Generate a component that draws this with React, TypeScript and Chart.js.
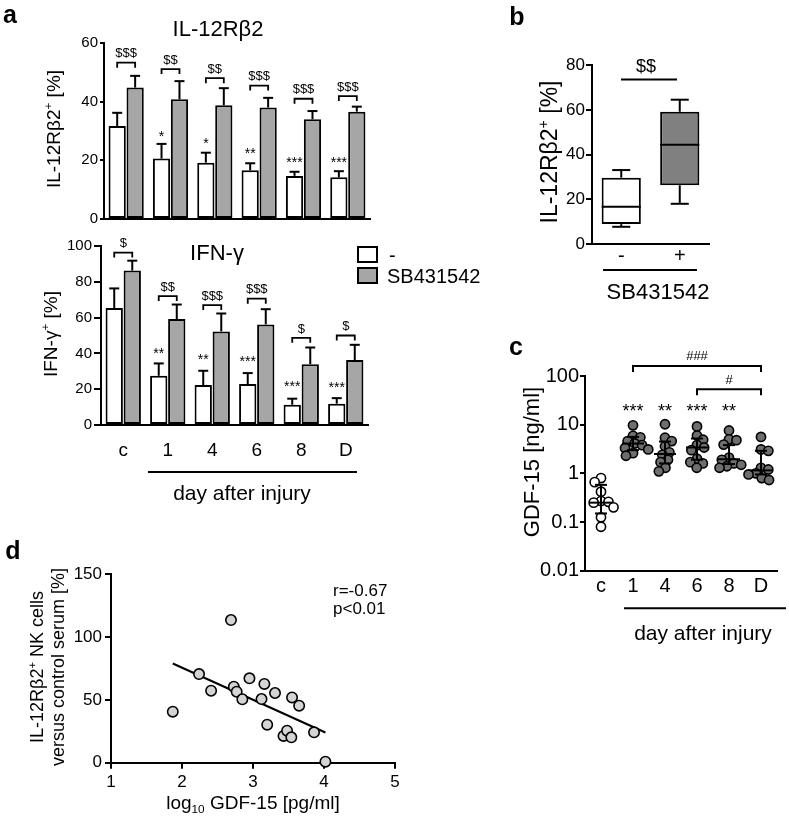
import React, { useEffect, useRef } from 'react';
import { Chart, registerables } from 'chart.js';

Chart.register(...registerables);

const FONT = '"Liberation Sans", Arial, Helvetica, sans-serif';

// ---------------- data ----------------
const days = ['c', '1', '4', '6', '8', 'D'];

// panel a – IL-12Rβ2
const il12Ctrl = [31.7, 20.6, 19.2, 16.6, 14.7, 14.2];
const il12CtrlErr = [36.2, 25.6, 22.6, 19.0, 16.1, 16.3];
const il12Sb = [44.8, 40.8, 38.8, 38.0, 34.0, 36.6];
const il12SbErr = [48.8, 47.0, 44.6, 41.3, 36.8, 38.3];
const il12Sig = ['$$$', '$$', '$$', '$$$', '$$$', '$$$'];
const il12SigAt = [53.3, 51.1, 48.0, 45.5, 41.0, 41.9];
const il12Star = ['', '*', '*', '**', '***', '***'];
const il12StarAt = [0, 29.0, 26.7, 23.0, 20.2, 20.2];

// panel a – IFN-γ
const ifnCtrl = [65.4, 27.5, 22.3, 22.9, 11.3, 11.9];
const ifnCtrlErr = [76.3, 34.4, 30.3, 29.0, 14.7, 15.0];
const ifnSb = [86.3, 59.2, 52.3, 56.2, 34.0, 36.3];
const ifnSbErr = [91.8, 67.3, 62.3, 64.7, 43.3, 44.8];
const ifnSig = ['$', '$$', '$$$', '$$$', '$', '$'];
const ifnSigAt = [96.3, 72.0, 67.0, 70.6, 48.7, 50.0];
const ifnStar = ['', '**', '**', '***', '***', '***'];
const ifnStarAt = [0, 41.3, 38.0, 36.8, 22.7, 22.1];

// panel b – box plot
const sbGroups = ['-', '+'];
const sbMin = [7.7, 18.0];
const sbQ1 = [8.9, 26.3];
const sbMed = [16.7, 44.4];
const sbQ3 = [29.7, 59.2];
const sbMax = [33.1, 64.6];

// panel c – GDF-15 [ng/ml]
const gdfC = [0.8, 0.66, 0.42, 0.27, 0.26, 0.25, 0.2, 0.125, 0.08];
const gdf1 = [9.7, 5.9, 5.5, 4.6, 4.1, 3.8, 3.3, 3.1, 2.6, 2.3];
const gdf4 = [10.2, 5.4, 4.6, 3.6, 2.7, 2.4, 1.9, 1.7, 1.3, 1.1];
const gdf6 = [9.2, 6.0, 4.9, 3.8, 3.4, 3.0, 2.0, 1.7, 1.6, 1.3];
const gdf8 = [7.6, 5.0, 4.8, 3.9, 2.1, 1.9, 1.6, 1.5, 1.4, 1.3];
const gdfD = [5.6, 3.1, 2.9, 1.3, 1.2, 1.0, 0.95, 0.8, 0.73];
const gdfMed = [0.25, 4.1, 2.5, 3.4, 1.95, 1.15];
const gdfLo = [0.15, 3.0, 1.6, 1.9, 1.55, 0.95];
const gdfHi = [0.58, 5.6, 4.5, 5.2, 3.8, 2.9];
const gdfStars = ['', '***', '**', '***', '**', ''];
const gdfTicks = [0.01, 0.1, 1, 10, 100];

// panel d – correlation
const gdfLog = [1.87, 2.24, 2.41, 2.69, 2.73, 2.77, 2.85, 2.95, 3.12, 3.16, 3.2, 3.31, 3.43, 3.48, 3.54, 3.55, 3.65, 3.86, 4.02];
const il12Rel = [40.6, 70.6, 57.3, 113.6, 60.5, 56.5, 50.5, 67.2, 50.7, 62.7, 30.3, 55.5, 21.3, 25.5, 20.2, 52.0, 45.4, 24.2, 0.8];

// ---------------- helpers ----------------
type Seg = [string, number?];

function rich(ctx: CanvasRenderingContext2D, segs: Seg[], x: number, y: number, size: number,
  rot = 0, align: 'center' | 'left' = 'center', weight = 'normal') {
  ctx.save();
  ctx.translate(x, y);
  if (rot) ctx.rotate(rot);
  ctx.fillStyle = '#000';
  ctx.textBaseline = 'alphabetic';
  ctx.textAlign = 'left';
  const fontOf = (m: number) => `${weight} ${m ? size * 0.62 : size}px ${FONT}`;
  let total = 0;
  const ws = segs.map(([t, m = 0]) => {
    ctx.font = fontOf(m);
    const w = ctx.measureText(t).width;
    total += w;
    return w;
  });
  let cx = align === 'center' ? -total / 2 : 0;
  const base = size * 0.36;
  segs.forEach(([t, m = 0], i) => {
    ctx.font = fontOf(m);
    const dy = m === 1 ? -size * 0.42 : m === -1 ? size * 0.22 : 0;
    ctx.fillText(t, cx, base + dy);
    cx += ws[i];
  });
  ctx.restore();
}

function line(ctx: CanvasRenderingContext2D, pts: number[][], w = 2) {
  ctx.save();
  ctx.strokeStyle = '#000';
  ctx.lineWidth = w;
  ctx.beginPath();
  pts.forEach(([x, y], i) => (i ? ctx.lineTo(x, y) : ctx.moveTo(x, y)));
  ctx.stroke();
  ctx.restore();
}

function bracket(ctx: CanvasRenderingContext2D, x1: number, x2: number, y: number, leg = 5, w = 1.8) {
  line(ctx, [[x1, y + leg], [x1, y], [x2, y], [x2, y + leg]], w);
}

function fixed(W: number, H: number, a: { l: number; t: number; r: number; b: number }) {
  return {
    padding: { left: 0, top: a.t, right: W - a.r, bottom: 0 },
    yWidth: a.l,
    xHeight: H - a.b,
  };
}

const border = { display: true, color: '#000', width: 2 };
const tickGrid = (len: number) => ({
  display: true, drawOnChartArea: false, drawTicks: true, tickLength: len, color: '#000', lineWidth: 2,
});
const noGrid = { display: false, drawTicks: false };
const baseOpts = {
  animation: false as const,
  responsive: false,
  maintainAspectRatio: false,
  events: [] as any[],
};
const noPlugins = { legend: { display: false }, tooltip: { enabled: false } };

// ---------------- panel a (bars) ----------------
type BarP = {
  W: number; H: number; area: { l: number; t: number; r: number; b: number };
  ctrl: number[]; ctrlErr: number[]; sb: number[]; sbErr: number[];
  sig: string[]; sigAt: number[]; star: string[]; starAt: number[];
  ymax: number; tickLen: number; showX: boolean; xPad: number;
  extra: (ctx: CanvasRenderingContext2D, chart: any) => void;
};

function barConfig(p: BarP): any {
  const L = fixed(p.W, p.H, p.area);
  const common = { borderColor: '#000', borderWidth: 2, borderSkipped: false, categoryPercentage: 0.81, barPercentage: 0.96 };
  return {
    type: 'bar',
    data: {
      labels: days,
      datasets: [
        { data: p.ctrl, backgroundColor: '#ffffff', ...common },
        { data: p.sb, backgroundColor: '#a6a6a6', ...common },
      ],
    },
    options: {
      ...baseOpts,
      layout: { padding: L.padding },
      plugins: noPlugins,
      scales: {
        x: {
          type: 'category',
          grid: noGrid,
          border,
          ticks: { display: p.showX, color: '#000', font: { family: FONT, size: 19 }, padding: p.xPad, maxRotation: 0, autoSkip: false },
          afterFit: (s: any) => { s.height = L.xHeight; },
        },
        y: {
          min: 0, max: p.ymax,
          ticks: { stepSize: 20, color: '#000', font: { family: FONT, size: 15 }, padding: 2 },
          grid: tickGrid(p.tickLen),
          border,
          afterFit: (s: any) => { s.width = L.yWidth; },
        },
      },
    },
    plugins: [{
      id: 'barExtras',
      afterDatasetsDraw(chart: any) {
        const ctx = chart.ctx as CanvasRenderingContext2D;
        const y = chart.scales.y;
        const m0 = chart.getDatasetMeta(0);
        const m1 = chart.getDatasetMeta(1);
        ([[m0, p.ctrlErr], [m1, p.sbErr]] as any[]).forEach(([m, err]) => {
          m.data.forEach((bar: any, i: number) => {
            const ye = y.getPixelForValue(err[i]);
            line(ctx, [[bar.x, bar.y], [bar.x, ye]]);
            line(ctx, [[bar.x - 5, ye], [bar.x + 5, ye]]);
          });
        });
        p.sig.forEach((s, i) => {
          const x1 = m0.data[i].x, x2 = m1.data[i].x;
          const yb = y.getPixelForValue(p.sigAt[i]);
          bracket(ctx, x1, x2, yb, 5, 1.8);
          rich(ctx, [[s]], (x1 + x2) / 2, yb - 10, 13);
        });
        p.star.forEach((s, i) => {
          if (!s) return;
          ctx.save();
          ctx.font = `14px ${FONT}`;
          ctx.fillStyle = '#000';
          ctx.textAlign = 'center';
          ctx.textBaseline = 'middle';
          ctx.fillText(s, m0.data[i].x, y.getPixelForValue(p.starAt[i]) + 3);
          ctx.restore();
        });
        p.extra(ctx, chart);
      },
    }],
  };
}

const panelATop = () => barConfig({
  W: 400, H: 230, area: { l: 104, t: 43, r: 370, b: 221 },
  ctrl: il12Ctrl, ctrlErr: il12CtrlErr, sb: il12Sb, sbErr: il12SbErr,
  sig: il12Sig, sigAt: il12SigAt, star: il12Star, starAt: il12StarAt,
  ymax: 60, tickLen: 4, showX: false, xPad: 0,
  extra: (ctx) => {
    rich(ctx, [['a']], 10, 14, 25, 0, 'center', 'bold');
    rich(ctx, [['IL-12Rβ2']], 218, 28, 22);
    rich(ctx, [['IL-12Rβ2'], ['+', 1], [' [%]']], 53, 129, 19, -Math.PI / 2);
  },
});

const panelABottom = () => barConfig({
  W: 480, H: 280, area: { l: 101, t: 16, r: 368, b: 195 },
  ctrl: ifnCtrl, ctrlErr: ifnCtrlErr, sb: ifnSb, sbErr: ifnSbErr,
  sig: ifnSig, sigAt: ifnSigAt, star: ifnStar, starAt: ifnStarAt,
  ymax: 100, tickLen: 7, showX: true, xPad: 14,
  extra: (ctx) => {
    rich(ctx, [['IFN-γ']], 217, 22.5, 22);
    rich(ctx, [['IFN-γ'], ['+', 1], [' [%]']], 50, 104, 19, -Math.PI / 2);
    // legend
    ctx.save();
    ctx.lineWidth = 2;
    ctx.strokeStyle = '#000';
    ctx.fillStyle = '#ffffff';
    ctx.fillRect(358, 17, 19, 15);
    ctx.strokeRect(358, 17, 19, 15);
    ctx.fillStyle = '#a6a6a6';
    ctx.fillRect(358, 38, 19, 15);
    ctx.strokeRect(358, 38, 19, 15);
    ctx.restore();
    rich(ctx, [['-']], 389, 24.5, 20, 0, 'left');
    rich(ctx, [['SB431542']], 387, 45.5, 20, 0, 'left');
    // x grouping
    line(ctx, [[148, 242], [357, 242]], 2);
    rich(ctx, [['day after injury']], 242, 262, 21);
  },
});

// ---------------- panel b (box plot) ----------------
const panelB = (): any => {
  const W = 309, H = 300;
  const L = fixed(W, H, { l: 112, t: 65.3, r: 229, b: 244 });
  return {
    type: 'bar',
    data: {
      labels: sbGroups,
      datasets: [{
        data: sbQ1.map((q, i) => [q, sbQ3[i]]),
        backgroundColor: ['#ffffff', '#808080'],
        borderColor: '#000', borderWidth: 2, borderSkipped: false,
        categoryPercentage: 1, barPercentage: 0.67,
      }],
    },
    options: {
      ...baseOpts,
      layout: { padding: L.padding },
      plugins: noPlugins,
      scales: {
        x: {
          type: 'category', grid: noGrid, border,
          ticks: { color: '#000', font: { family: FONT, size: 20 }, padding: 0, maxRotation: 0 },
          afterFit: (s: any) => { s.height = L.xHeight; },
        },
        y: {
          min: 0, max: 80,
          ticks: { stepSize: 20, color: '#000', font: { family: FONT, size: 17 }, padding: 1 },
          grid: tickGrid(6), border,
          afterFit: (s: any) => { s.width = L.yWidth; },
        },
      },
    },
    plugins: [{
      id: 'boxExtras',
      afterDatasetsDraw(chart: any) {
        const ctx = chart.ctx as CanvasRenderingContext2D;
        const y = chart.scales.y;
        const meta = chart.getDatasetMeta(0);
        meta.data.forEach((bar: any, i: number) => {
          const x = bar.x, hw = bar.width / 2;
          const yMin = y.getPixelForValue(sbMin[i]), yMax = y.getPixelForValue(sbMax[i]);
          const yQ1 = y.getPixelForValue(sbQ1[i]), yQ3 = y.getPixelForValue(sbQ3[i]);
          const yMed = y.getPixelForValue(sbMed[i]);
          line(ctx, [[x, yQ3], [x, yMax]]);
          line(ctx, [[x - 9, yMax], [x + 9, yMax]]);
          line(ctx, [[x, yQ1], [x, yMin]]);
          line(ctx, [[x - 9, yMin], [x + 9, yMin]]);
          line(ctx, [[x - hw, yMed], [x + hw, yMed]]);
        });
        const yl = y.getPixelForValue(73.6);
        line(ctx, [[141, yl], [197, yl]], 2);
        rich(ctx, [['$$']], 166, 66, 18);
        rich(ctx, [['b']], 37, 16, 25, 0, 'center', 'bold');
        rich(ctx, [['IL-12Rβ2'], ['+', 1], [' [%]']], 69, 152, 23, -Math.PI / 2);
        line(ctx, [[123, 270], [217, 270]], 2);
        rich(ctx, [['SB431542']], 178, 291, 22);
      },
    }],
  };
};

// ---------------- panel c (dot plot, log) ----------------
const gdfGroups = [gdfC, gdf1, gdf4, gdf6, gdf8, gdfD];

const panelC = (): any => {
  const W = 309, H = 350;
  const L = fixed(W, H, { l: 105, t: 76, r: 297, b: 270.7 });
  const pts = (g: number) => gdfGroups[g].map((v) => ({ x: g, y: v, g }));
  const dot = { pointRadius: 4.6, pointBorderColor: '#000', pointBorderWidth: 1.6, clip: false };
  return {
    type: 'scatter',
    data: {
      datasets: [
        { data: pts(0), pointBackgroundColor: '#ffffff', ...dot },
        { data: [1, 2, 3, 4, 5].flatMap(pts), pointBackgroundColor: '#6e6e6e', ...dot },
      ],
    },
    options: {
      ...baseOpts,
      layout: { padding: L.padding },
      plugins: noPlugins,
      scales: {
        x: {
          type: 'linear', min: -0.5, max: 5.5,
          afterBuildTicks: (s: any) => { s.ticks = days.map((_, i) => ({ value: i })); },
          ticks: { color: '#000', font: { family: FONT, size: 20 }, padding: 4, maxRotation: 0, autoSkip: false, callback: (v: any) => days[Math.round(v)] },
          grid: noGrid, border,
          afterFit: (s: any) => { s.height = L.xHeight; },
        },
        y: {
          type: 'logarithmic', min: 0.01, max: 100,
          afterBuildTicks: (s: any) => { s.ticks = gdfTicks.map((v) => ({ value: v })); },
          ticks: { color: '#000', font: { family: FONT, size: 20 }, padding: 1, callback: (v: any) => String(v) },
          grid: tickGrid(5), border,
          afterFit: (s: any) => { s.width = L.yWidth; },
        },
      },
    },
    plugins: [{
      id: 'dotExtras',
      afterDatasetsDraw(chart: any) {
        const ctx = chart.ctx as CanvasRenderingContext2D;
        const xs = chart.scales.x, ys = chart.scales.y;
        days.forEach((_, g) => {
          const x = xs.getPixelForValue(g);
          const ym = ys.getPixelForValue(gdfMed[g]);
          const yl = ys.getPixelForValue(gdfLo[g]);
          const yh = ys.getPixelForValue(gdfHi[g]);
          line(ctx, [[x - 11, ym], [x + 11, ym]]);
          line(ctx, [[x, yl], [x, yh]]);
          line(ctx, [[x - 6, yl], [x + 6, yl]]);
          line(ctx, [[x - 6, yh], [x + 6, yh]]);
          if (gdfStars[g]) {
            ctx.save();
            ctx.font = `18px ${FONT}`;
            ctx.fillStyle = '#000';
            ctx.textAlign = 'center';
            ctx.textBaseline = 'middle';
            ctx.fillText(gdfStars[g], x, ys.getPixelForValue(22) + 4);
            ctx.restore();
          }
        });
        const x1 = xs.getPixelForValue(1), x3 = xs.getPixelForValue(3), x5 = xs.getPixelForValue(5);
        bracket(ctx, x1, x5, 66, 6, 2);
        rich(ctx, [['###']], (x1 + x5) / 2, 55, 13);
        bracket(ctx, x3, x5, 89.3, 6, 2);
        rich(ctx, [['#']], (x3 + x5) / 2, 79, 13);
        rich(ctx, [['c']], 36, 46, 25, 0, 'center', 'bold');
        rich(ctx, [['GDF-15 [ng/ml]']], 51, 162, 22, -Math.PI / 2);
        line(ctx, [[144, 308.3], [306, 308.3]], 2);
        rich(ctx, [['day after injury']], 223, 332, 21);
      },
    }],
  };
};

function applySwarm(chart: any) {
  const xs = chart.scales.x, ys = chart.scales.y;
  const unit = xs.getPixelForValue(1) - xs.getPixelForValue(0);
  const D = 7.5;
  chart.data.datasets.forEach((ds: any) => {
    const byGroup: Record<number, any[]> = {};
    ds.data.forEach((p: any) => { (byGroup[p.g] ||= []).push(p); });
    Object.values(byGroup).forEach((group) => {
      const placed: { dx: number; py: number }[] = [];
      group.forEach((p, k) => {
        const py = ys.getPixelForValue(p.y);
        const cands = [0];
        placed.forEach((q) => {
          const dy = Math.abs(py - q.py);
          if (dy < D) {
            const h = Math.sqrt(D * D - dy * dy);
            cands.push(q.dx + h, q.dx - h);
          }
        });
        const sign = k % 2 ? -1 : 1;
        cands.sort((a, b) => Math.abs(a) - Math.abs(b) || sign * (b - a));
        const dx = cands.find((c) => placed.every((q) => Math.hypot(c - q.dx, py - q.py) >= D - 0.01)) ?? 0;
        placed.push({ dx, py });
        p.x = p.g + dx / unit;
      });
    });
  });
  chart.update('none');
}

// ---------------- panel d (scatter + regression) ----------------
function fitLine(xv: number[], yv: number[]) {
  const n = xv.length;
  const mx = xv.reduce((a, b) => a + b, 0) / n;
  const my = yv.reduce((a, b) => a + b, 0) / n;
  let sxy = 0, sxx = 0;
  xv.forEach((x, i) => { sxy += (x - mx) * (yv[i] - my); sxx += (x - mx) ** 2; });
  const m = sxy / sxx;
  return { m, b: my - m * mx };
}

const panelD = (): any => {
  const W = 480, H = 287;
  const L = fixed(W, H, { l: 111, t: 44.3, r: 395, b: 232.7 });
  const fit = fitLine(gdfLog, il12Rel);
  const x0 = Math.min(...gdfLog), x1 = Math.max(...gdfLog);
  return {
    type: 'scatter',
    data: {
      datasets: [
        {
          data: gdfLog.map((x, i) => ({ x, y: il12Rel[i] })),
          pointRadius: 5.2, pointBackgroundColor: '#d4d4d4', pointBorderColor: '#000', pointBorderWidth: 1.6,
          clip: false, order: 1,
        },
        {
          type: 'line',
          data: [{ x: x0, y: fit.b + fit.m * x0 }, { x: x1, y: fit.b + fit.m * x1 }],
          borderColor: '#000', borderWidth: 2, pointRadius: 0, showLine: true, fill: false, clip: false, order: 2,
        },
      ],
    },
    options: {
      ...baseOpts,
      layout: { padding: L.padding },
      plugins: noPlugins,
      scales: {
        x: {
          type: 'linear', min: 1, max: 5,
          ticks: { stepSize: 1, color: '#000', font: { family: FONT, size: 17 }, padding: 3, maxRotation: 0 },
          grid: tickGrid(6), border,
          afterFit: (s: any) => { s.height = L.xHeight; },
        },
        y: {
          min: 0, max: 150,
          ticks: { stepSize: 50, color: '#000', font: { family: FONT, size: 17 }, padding: 3 },
          grid: tickGrid(6), border,
          afterFit: (s: any) => { s.width = L.yWidth; },
        },
      },
    },
    plugins: [{
      id: 'corrExtras',
      afterDatasetsDraw(chart: any) {
        const ctx = chart.ctx as CanvasRenderingContext2D;
        rich(ctx, [['d']], 13, 20, 25, 0, 'center', 'bold');
        rich(ctx, [['r=-0.67']], 333, 60, 17, 0, 'left');
        rich(ctx, [['p<0.01']], 333, 78, 17, 0, 'left');
        rich(ctx, [['IL-12Rβ2'], ['+', 1], [' NK cells']], 37, 137, 18, -Math.PI / 2);
        rich(ctx, [['versus control serum [%]']], 58, 137, 18, -Math.PI / 2);
        rich(ctx, [['log'], ['10', -1], [' GDF-15 [pg/ml]']], 253, 272, 19);
      },
    }],
  };
};

// ---------------- components ----------------
function ChartBox(props: { left: number; top: number; width: number; height: number; make: () => any; after?: (c: any) => void }) {
  const ref = useRef<HTMLCanvasElement>(null);
  useEffect(() => {
    const chart = new Chart(ref.current as HTMLCanvasElement, props.make());
    if (props.after) props.after(chart);
    return () => chart.destroy();
  }, []);
  return (
    <canvas
      ref={ref}
      width={props.width}
      height={props.height}
      style={{ position: 'absolute', left: props.left, top: props.top, width: props.width, height: props.height }}
    />
  );
}

export default function App() {
  return (
    <div style={{ position: 'fixed', left: 0, top: 0, width: 789, height: 817, background: '#ffffff', overflow: 'hidden' }}>
      <ChartBox left={0} top={0} width={400} height={230} make={panelATop} />
      <ChartBox left={0} top={230} width={480} height={280} make={panelABottom} />
      <ChartBox left={480} top={0} width={309} height={300} make={panelB} />
      <ChartBox left={480} top={300} width={309} height={350} make={panelC} after={applySwarm} />
      <ChartBox left={0} top={530} width={480} height={287} make={panelD} />
    </div>
  );
}
